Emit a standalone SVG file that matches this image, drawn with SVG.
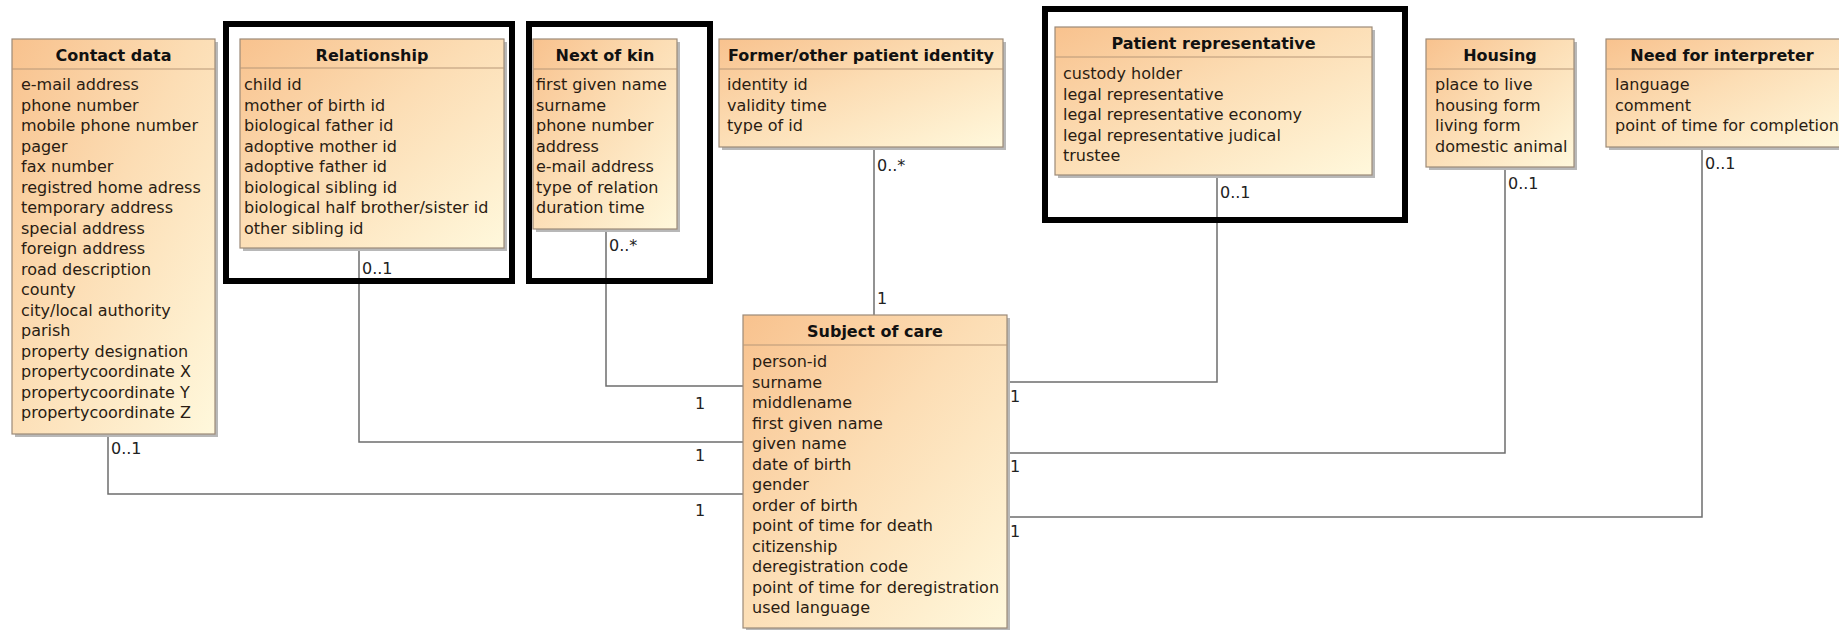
<svg xmlns="http://www.w3.org/2000/svg" width="1839" height="630" viewBox="0 0 1839 630">
<defs>
<linearGradient id="fill" x1="0" y1="0" x2="1" y2="1">
<stop offset="0" stop-color="#F8C28E"/>
<stop offset="0.45" stop-color="#FCDDB4"/>
<stop offset="1" stop-color="#FFF8DC"/>
</linearGradient>
</defs>
<style>
.box{fill:url(#fill);stroke:#9C8A78;stroke-width:1.2}
.sh{fill:#B8B8B8}
.sep{stroke:#B89878;stroke-width:1.2}
.t{font-family:"DejaVu Sans",sans-serif;font-size:16px;font-weight:bold;fill:#111;text-anchor:middle}
.a{font-family:"DejaVu Sans",sans-serif;font-size:16px;fill:#2A1C12}
.m{font-family:"DejaVu Sans",sans-serif;font-size:16px;fill:#222}
.c{fill:none;stroke:#6E6E6E;stroke-width:1.5}
.fr{fill:none;stroke:#000;stroke-width:6}
</style>
<rect width="1839" height="630" fill="#fff"/>
<g id="connectors">
<path class="c" d="M108 434V494H743"/>
<path class="c" d="M359 248V442H743"/>
<path class="c" d="M606 229V386H743"/>
<path class="c" d="M874 147V315"/>
<path class="c" d="M1217 175V382H1007"/>
<path class="c" d="M1505 167V453H1007"/>
<path class="c" d="M1702 147V517H1007"/>
<text class="m" x="111" y="454">0..1</text>
<text class="m" x="695" y="516">1</text>
<text class="m" x="362" y="274">0..1</text>
<text class="m" x="695" y="461">1</text>
<text class="m" x="609" y="251">0..*</text>
<text class="m" x="695" y="409">1</text>
<text class="m" x="877" y="171">0..*</text>
<text class="m" x="877" y="304">1</text>
<text class="m" x="1220" y="198">0..1</text>
<text class="m" x="1010" y="402">1</text>
<text class="m" x="1508" y="189">0..1</text>
<text class="m" x="1010" y="472">1</text>
<text class="m" x="1705" y="169">0..1</text>
<text class="m" x="1010" y="537">1</text>
</g>
<g id="contact-data">
<rect class="sh" x="15" y="42" width="203" height="395"/>
<rect class="box" x="12" y="39" width="203" height="395"/>
<line class="sep" x1="12" y1="69" x2="215" y2="69"/>
<text class="t" x="113.5" y="61">Contact data</text>
<text class="a" x="21" y="90">e-mail address</text>
<text class="a" x="21" y="110.5">phone number</text>
<text class="a" x="21" y="131">mobile phone number</text>
<text class="a" x="21" y="151.5">pager</text>
<text class="a" x="21" y="172">fax number</text>
<text class="a" x="21" y="192.5">registred home adress</text>
<text class="a" x="21" y="213">temporary address</text>
<text class="a" x="21" y="233.5">special address</text>
<text class="a" x="21" y="254">foreign address</text>
<text class="a" x="21" y="274.5">road description</text>
<text class="a" x="21" y="295">county</text>
<text class="a" x="21" y="315.5">city/local authority</text>
<text class="a" x="21" y="336">parish</text>
<text class="a" x="21" y="356.5">property designation</text>
<text class="a" x="21" y="377">propertycoordinate X</text>
<text class="a" x="21" y="397.5">propertycoordinate Y</text>
<text class="a" x="21" y="418">propertycoordinate Z</text>
</g>
<g id="relationship">
<rect class="sh" x="243" y="42" width="264" height="209"/>
<rect class="box" x="240" y="39" width="264" height="209"/>
<line class="sep" x1="240" y1="68" x2="504" y2="68"/>
<text class="t" x="372" y="61">Relationship</text>
<text class="a" x="244" y="90">child id</text>
<text class="a" x="244" y="110.5">mother of birth id</text>
<text class="a" x="244" y="131">biological father id</text>
<text class="a" x="244" y="151.5">adoptive mother id</text>
<text class="a" x="244" y="172">adoptive father id</text>
<text class="a" x="244" y="192.5">biological sibling id</text>
<text class="a" x="244" y="213">biological half brother/sister id</text>
<text class="a" x="244" y="233.5">other sibling id</text>
<rect class="fr" x="226" y="24" width="286" height="257"/>
</g>
<g id="next-of-kin">
<rect class="sh" x="536" y="42" width="144" height="190"/>
<rect class="box" x="533" y="39" width="144" height="190"/>
<line class="sep" x1="533" y1="69" x2="677" y2="69"/>
<text class="t" x="605" y="61">Next of kin</text>
<text class="a" x="536" y="90">first given name</text>
<text class="a" x="536" y="110.5">surname</text>
<text class="a" x="536" y="131">phone number</text>
<text class="a" x="536" y="151.5">address</text>
<text class="a" x="536" y="172">e-mail address</text>
<text class="a" x="536" y="192.5">type of relation</text>
<text class="a" x="536" y="213">duration time</text>
<rect class="fr" x="529" y="24" width="181" height="257"/>
</g>
<g id="former-identity">
<rect class="sh" x="722" y="42" width="284" height="108"/>
<rect class="box" x="719" y="39" width="284" height="108"/>
<line class="sep" x1="719" y1="69" x2="1003" y2="69"/>
<text class="t" x="861" y="61">Former/other patient identity</text>
<text class="a" x="727" y="90">identity id</text>
<text class="a" x="727" y="110.5">validity time</text>
<text class="a" x="727" y="131">type of id</text>
</g>
<g id="patient-representative">
<rect class="sh" x="1058" y="30" width="317" height="148"/>
<rect class="box" x="1055" y="27" width="317" height="148"/>
<line class="sep" x1="1055" y1="57" x2="1372" y2="57"/>
<text class="t" x="1213.5" y="49">Patient representative</text>
<text class="a" x="1063" y="79">custody holder</text>
<text class="a" x="1063" y="99.5">legal representative</text>
<text class="a" x="1063" y="120">legal representative economy</text>
<text class="a" x="1063" y="140.5">legal representative judical</text>
<text class="a" x="1063" y="161">trustee</text>
<rect class="fr" x="1045" y="9" width="360" height="211"/>
</g>
<g id="housing">
<rect class="sh" x="1429" y="42" width="148" height="128"/>
<rect class="box" x="1426" y="39" width="148" height="128"/>
<line class="sep" x1="1426" y1="69" x2="1574" y2="69"/>
<text class="t" x="1500" y="61">Housing</text>
<text class="a" x="1435" y="90">place to live</text>
<text class="a" x="1435" y="110.5">housing form</text>
<text class="a" x="1435" y="131">living form</text>
<text class="a" x="1435" y="151.5">domestic animal</text>
</g>
<g id="need-for-interpreter">
<rect class="sh" x="1609" y="42" width="240" height="108"/>
<rect class="box" x="1606" y="39" width="240" height="108"/>
<line class="sep" x1="1606" y1="69" x2="1839" y2="69"/>
<text class="t" x="1722" y="61">Need for interpreter</text>
<text class="a" x="1615" y="90">language</text>
<text class="a" x="1615" y="110.5">comment</text>
<text class="a" x="1615" y="131">point of time for completion</text>
</g>
<g id="subject-of-care">
<rect class="sh" x="746" y="318" width="264" height="313"/>
<rect class="box" x="743" y="315" width="264" height="313"/>
<line class="sep" x1="743" y1="345" x2="1007" y2="345"/>
<text class="t" x="875" y="337">Subject of care</text>
<text class="a" x="752" y="367">person-id</text>
<text class="a" x="752" y="387.5">surname</text>
<text class="a" x="752" y="408">middlename</text>
<text class="a" x="752" y="428.5">first given name</text>
<text class="a" x="752" y="449">given name</text>
<text class="a" x="752" y="469.5">date of birth</text>
<text class="a" x="752" y="490">gender</text>
<text class="a" x="752" y="510.5">order of birth</text>
<text class="a" x="752" y="531">point of time for death</text>
<text class="a" x="752" y="551.5">citizenship</text>
<text class="a" x="752" y="572">deregistration code</text>
<text class="a" x="752" y="592.5">point of time for deregistration</text>
<text class="a" x="752" y="613">used language</text>
</g>
</svg>
